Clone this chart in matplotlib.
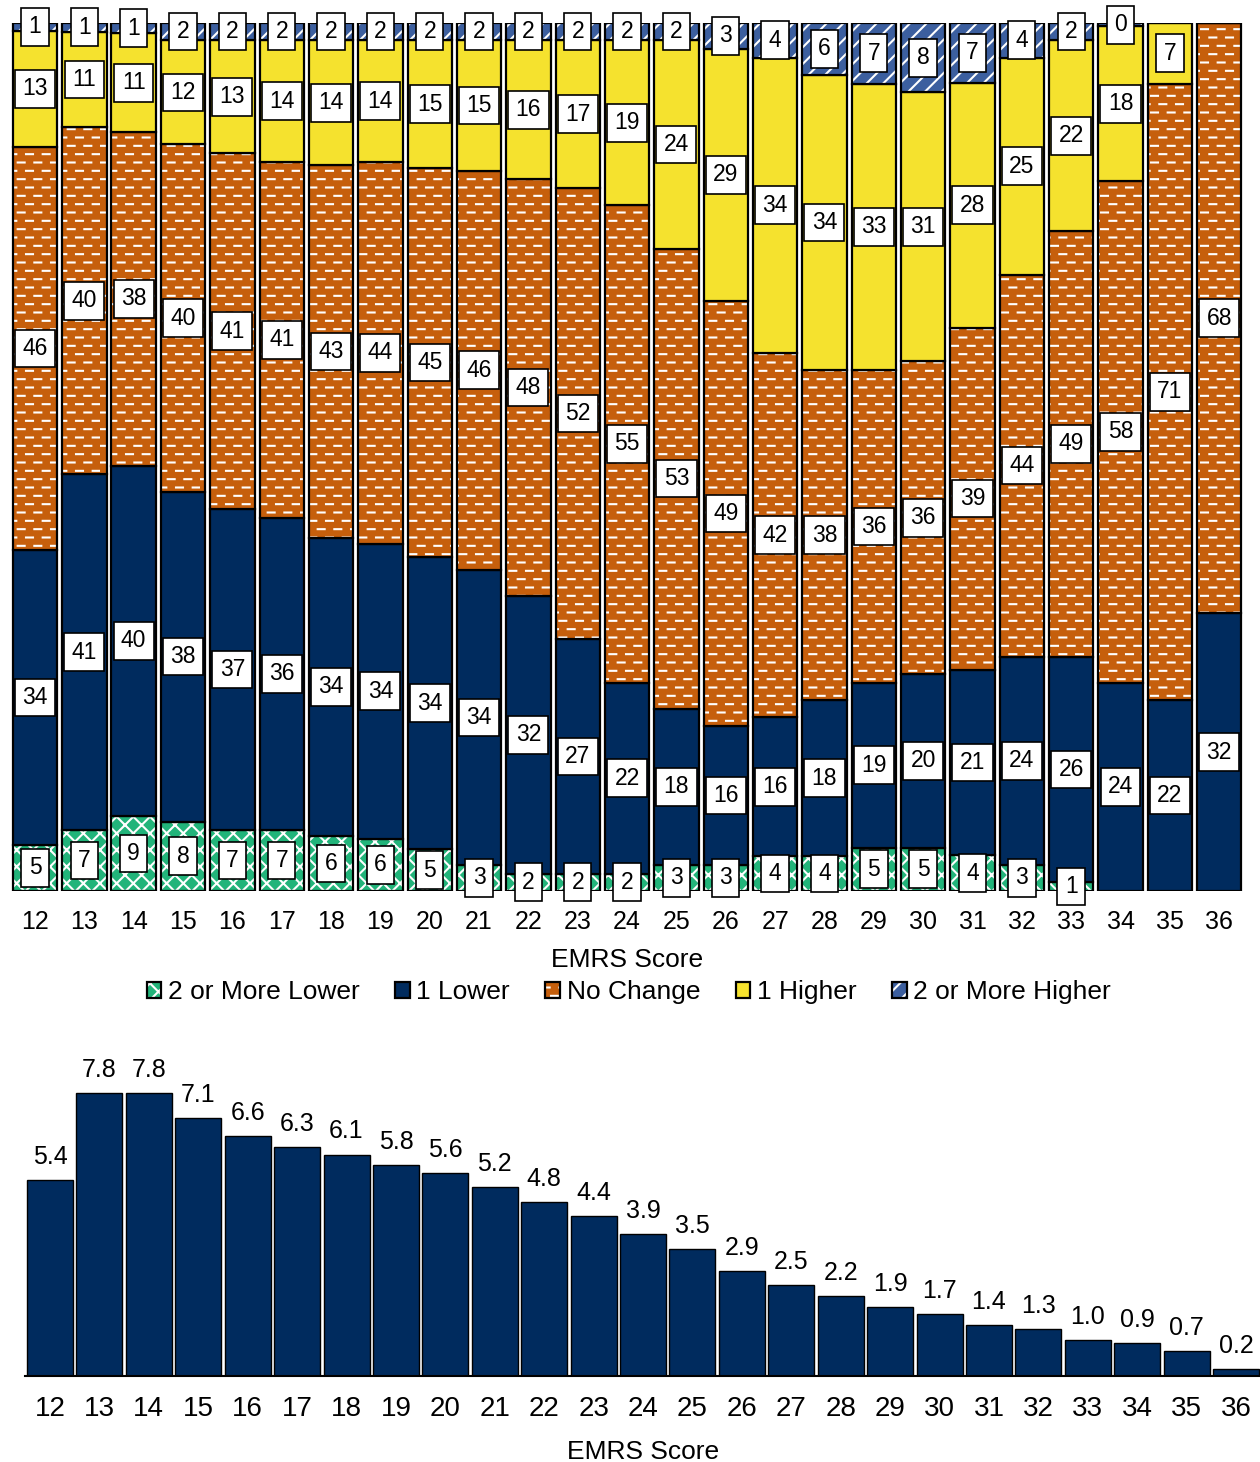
import numpy as np
from matplotlib import pyplot as plt
from matplotlib import hatch as mhatch
from matplotlib.path import Path

plt.rcParams['font.family'] = ['Liberation Sans', 'DejaVu Sans']
plt.rcParams['hatch.linewidth'] = 1.5

scores = list(range(12, 37))

# share (%) of each change category at every EMRS score
lower2 = [5.3, 7, 8.6, 8, 7, 7, 6.3, 6, 4.8, 3, 2, 2, 2, 3, 3, 4, 4, 5, 5, 4.1, 3, 1, 0, 0, 0]
lower1 = [34.0, 41, 40.4, 38, 37, 36, 34.4, 34, 33.7, 34, 32, 27, 22, 18, 16, 16, 18, 19, 20, 21.4,
          24, 26, 24.0, 22, 32]
no_change = [46.4, 40, 38.4, 40, 41, 41, 42.9, 44, 44.8, 46, 48, 52, 55, 53, 49, 42, 38, 36, 36, 39.4,
             44, 49, 57.8, 71, 68]
higher1 = [13.4, 11, 11.4, 12, 13, 14, 14.4, 14, 14.7, 15, 16, 17, 19, 24, 29, 34, 34, 33, 31, 28.2,
           25, 22, 17.8, 7, 0]
higher2 = [0.9, 1, 1.2, 2, 2, 2, 2.0, 2, 2.0, 2, 2, 2, 2, 2, 3, 4, 6, 7, 8, 6.9, 4, 2, 0.4, 0, 0]

# share (%) of all records falling on each score
pct_of_total = [5.4, 7.8, 7.8, 7.1, 6.6, 6.3, 6.1, 5.8, 5.6, 5.2, 4.8, 4.4, 3.9, 3.5, 2.9,
                2.5, 2.2, 1.9, 1.7, 1.4, 1.3, 1.0, 0.9, 0.7, 0.2]

names = ['2 or More Lower', '1 Lower', 'No Change', '1 Higher', '2 or More Higher']
colors = ['#22B47A', '#002B5E', '#C65F0C', '#F5E22E', '#3C5F9F']
hatches = ['xx', None, '--', None, '//']


# '-' hatch drawn as rows of short staggered dashes instead of full lines
class DashedRows(mhatch.HatchPatternBase):
    def __init__(self, hatch, density):
        self.rows = int(hatch.count('-') * density)
        self.per_row = 6
        self.num_vertices = self.rows * self.per_row * 2

    def set_vertices_and_codes(self, vertices, codes):
        step = 1.0 / self.per_row
        k = 0
        for r in range(self.rows):
            y = (r + 0.5) / self.rows
            shift = step / 2 if r % 2 else 0.0
            for d in range(self.per_row):
                x0 = d * step + shift + 0.01
                vertices[k] = (x0, y)
                vertices[k + 1] = (x0 + 0.07, y)
                codes[k] = Path.MOVETO
                codes[k + 1] = Path.LINETO
                k += 2


mhatch._hatch_types = [DashedRows if t is mhatch.HorizontalHatch else t
                       for t in mhatch._hatch_types]

fig = plt.figure(figsize=(12.6, 14.62), dpi=100)

# stacked 100% bars
ax = fig.add_axes([0.0082, 0.3906, 0.979, 0.5937])
x = np.arange(len(scores))
bottom = np.zeros(len(scores))
handles = []
for vals, col, hat in zip([lower2, lower1, no_change, higher1, higher2], colors, hatches):
    vals = np.array(vals, dtype=float)
    # white hatch on the fill, black outline drawn on top
    fill = ax.bar(x, vals, 0.9, bottom=bottom, color=col, hatch=hat,
                  edgecolor='white', linewidth=0)
    edge = ax.bar(x, vals, 0.9, bottom=bottom, facecolor='none',
                  edgecolor='black', linewidth=1.6)
    handles.append((fill, edge))
    for xi, b, v in zip(x, bottom, vals):
        if v > 0:
            ax.text(xi, b + v / 2, f'{v:.0f}', ha='center', va='center', fontsize=16.5,
                    zorder=5, bbox=dict(boxstyle='square,pad=0.32', fc='white',
                                        ec='black', lw=1.2))
    bottom += vals

ax.set_xlim(-0.5, len(scores) - 0.5)
ax.set_ylim(0, 100)
ax.set_yticks([])
ax.set_xticks(x, scores)
ax.tick_params(axis='x', length=0, pad=13.5, labelsize=18)
for s in ax.spines.values():
    s.set_visible(False)
ax.set_xlabel('EMRS Score', fontsize=19, labelpad=10)

fig.legend(handles, names, loc='center', bbox_to_anchor=(0.499, 1 - 992 / 1462),
           ncol=5, frameon=False, fontsize=19, handlelength=0.55, handleheight=0.55,
           handletextpad=0.25, columnspacing=1.35)

# share of records per score
ax2 = fig.add_axes([0.0201, 0.0588, 0.9805, 0.2161])
ax2.bar(x, pct_of_total, 0.93, color='#002B5E', edgecolor='black', linewidth=1)
for xi, v in zip(x, pct_of_total):
    ax2.annotate(f'{v:.1f}', (xi, v), xytext=(0, 8), textcoords='offset points',
                 ha='center', va='bottom', fontsize=18)
ax2.set_xlim(-0.5, len(scores) - 0.5)
ax2.set_ylim(0, 8.7)
ax2.set_yticks([])
ax2.set_xticks(x, scores)
ax2.tick_params(axis='x', length=0, pad=14.5, labelsize=20)
for side in ['left', 'right', 'top']:
    ax2.spines[side].set_visible(False)
ax2.spines['bottom'].set_linewidth(1.5)
ax2.set_xlabel('EMRS Score', fontsize=19, labelpad=13)

fig.savefig('out.png', dpi=100)
